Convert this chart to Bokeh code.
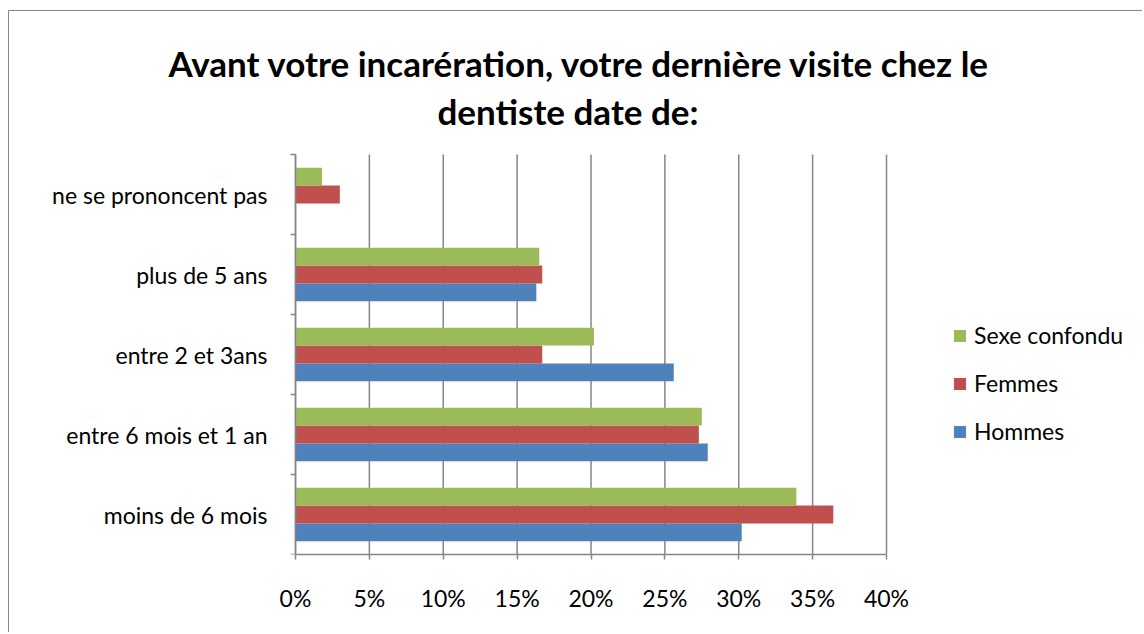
from bokeh.plotting import figure
from bokeh.models import (Label, Legend, LegendItem, FixedTicker, PrintfTickFormatter,
                          Range1d)
from bokeh.embed import file_html
from bokeh.resources import INLINE
import numpy as np

categories = ["moins de 6 mois", "entre 6 mois et 1 an", "entre 2 et 3ans",
              "plus de 5 ans", "ne se prononcent pas"]
hommes = [30.2, 27.9, 25.6, 16.3, 0.0]
femmes = [36.4, 27.3, 16.7, 16.7, 3.0]
sexe_confondu = [33.9, 27.5, 20.2, 16.5, 1.8]
series_names = ["Hommes", "Femmes", "Sexe confondu"]
series_values = [hommes, femmes, sexe_confondu]
colors = ["#4F81BD", "#C0504D", "#9BBB59"]
x_ticks = [0, 5, 10, 15, 20, 25, 30, 35, 40]
title_lines = ["Avant votre incarération, votre dernière visite chez le",
               "dentiste date de:"]

FONT = "Lato"
LBL = "23px"
GRAY = "#868686"
n = len(categories)
x_max = x_ticks[-1]

# ---- layout (pixels) ----
W, H = 1134, 622            # figure size; figure placed at page (9, 11)
ORG_X, ORG_Y = 9, 11
PLOT_L, PLOT_R = 295, 886   # page px of 0% and 40%
PLOT_B = 554                # page px of the bottom axis
CAT_PX = 80                 # px per category band
frame_h = PLOT_B - ORG_Y
px_per_x = (PLOT_R - PLOT_L) / x_max
x_start = (ORG_X - PLOT_L) / px_per_x
x_end = (ORG_X + W - PLOT_L) / px_per_x
y_end = frame_h / CAT_PX

def page_x(px):
    return (px - PLOT_L) / px_per_x

def page_y(py):
    return (PLOT_B - py) / CAT_PX

p = figure(width=W, height=H, output_backend="svg", toolbar_location=None,
           x_range=Range1d(x_start, x_end), y_range=Range1d(0, y_end),
           min_border_left=0, min_border_right=0, min_border_top=0,
           min_border_bottom=H - frame_h, outline_line_color=None,
           background_fill_color="white", border_fill_color="white")
p.styles = {"margin-left": "8px", "margin-top": "10px",
            "border-left": "1px solid #868686", "border-top": "1px solid #868686"}

# vertical gridlines limited to the plot area
p.segment(x0=x_ticks, x1=x_ticks, y0=[0] * len(x_ticks), y1=[n] * len(x_ticks),
          line_color=GRAY, line_width=1.5)

bar_h = 0.222
offsets = [-bar_h, 0.0, bar_h]
renderers = []
for name, vals, col, off in zip(series_names, series_values, colors, offsets):
    ys = np.arange(n) + 0.5 + off
    r = p.hbar(y=ys, right=vals, left=0, height=bar_h, fill_color=col, line_color=None)
    renderers.append(r)

# axes
p.xaxis.bounds = (0, x_max)
p.xaxis.ticker = FixedTicker(ticks=x_ticks, minor_ticks=[])
p.xaxis.formatter = PrintfTickFormatter(format="%d%%")
p.xaxis.axis_line_color = GRAY
p.xaxis.axis_line_width = 1.5
p.xaxis.major_tick_line_color = GRAY
p.xaxis.major_tick_line_width = 1.5
p.xaxis.major_tick_out = 5
p.xaxis.major_tick_in = 0
p.xaxis.minor_tick_line_color = None
p.xaxis.major_label_standoff = 24
p.xaxis.major_label_text_font = FONT
p.xaxis.major_label_text_font_size = LBL
p.xaxis.major_label_text_color = "black"

p.yaxis.fixed_location = 0
p.yaxis.bounds = (0, n)
p.yaxis.ticker = FixedTicker(ticks=[i + 0.5 for i in range(n)],
                             minor_ticks=list(range(n + 1)))
p.yaxis.major_label_overrides = {i + 0.5: c for i, c in enumerate(categories)}
p.yaxis.axis_line_color = GRAY
p.yaxis.axis_line_width = 1.5
p.yaxis.major_tick_line_color = None
p.yaxis.major_tick_out = 0
p.yaxis.major_tick_in = 0
p.yaxis.minor_tick_line_color = GRAY
p.yaxis.minor_tick_line_width = 1.5
p.yaxis.minor_tick_out = 5
p.yaxis.minor_tick_in = 0
p.yaxis.major_label_standoff = 23
p.yaxis.major_label_text_font = FONT
p.yaxis.major_label_text_font_size = LBL
p.yaxis.major_label_text_color = "black"

p.xgrid.grid_line_color = None
p.ygrid.grid_line_color = None

# title (two lines)
for txt, cx, by in [(title_lines[0], 579, 62), (title_lines[1], 567.5, 110)]:
    p.add_layout(Label(x=page_x(cx), y=page_y(by), text=txt,
                       text_align="center", text_baseline="alphabetic",
                       text_font=FONT, text_font_size="35px",
                       text_font_style="bold", text_color="black"))

# legend
items = [LegendItem(label=nm, renderers=[r]) for nm, r in
         zip(series_names[::-1], renderers[::-1])]
legend = Legend(items=items, location=(952 - ORG_X, PLOT_B - 446), padding=0,
                margin=0, spacing=18, glyph_width=15, glyph_height=15,
                label_height=30, label_standoff=7, border_line_color=None,
                background_fill_alpha=0,
                label_text_font=FONT, label_text_font_size=LBL,
                label_text_color="black")
p.add_layout(legend, "center")

open("out.html", "w").write(file_html(p, INLINE))
